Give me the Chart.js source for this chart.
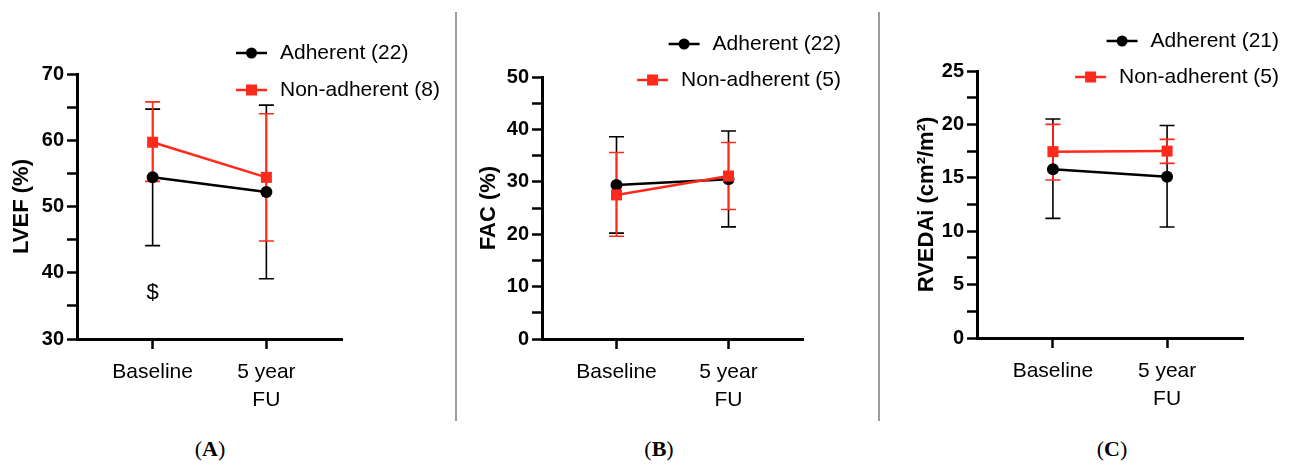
<!DOCTYPE html>
<html><head><meta charset="utf-8">
<script src="https://cdn.jsdelivr.net/npm/chart.js@4/dist/chart.umd.min.js"></script>
<style>
html,body{margin:0;padding:0;background:#fff;}
body{width:1291px;height:466px;position:relative;overflow:hidden;font-family:"Liberation Sans",Arial,sans-serif;}
canvas{position:absolute;top:0;}
.sep{position:absolute;width:2px;background:#9c9c9c;top:12px;height:409px;}
.lab{position:absolute;top:436px;width:80px;text-align:center;font:22px "Liberation Serif","Times New Roman",serif;line-height:26px;color:#000;}
.lab b{font-weight:bold;}
</style></head><body>
<canvas id="cA" width="455" height="430" style="left:0px"></canvas>
<div class="sep" style="left:455px"></div>
<canvas id="cB" width="421" height="430" style="left:457px"></canvas>
<div class="sep" style="left:878px"></div>
<canvas id="cC" width="410" height="430" style="left:881px"></canvas>
<div class="lab" style="left:170px">(<b>A</b>)</div>
<div class="lab" style="left:619px">(<b>B</b>)</div>
<div class="lab" style="left:1072px">(<b>C</b>)</div>
<script>
// ---------- data ----------
const xLabels = ['Baseline', ['5 year', 'FU']];
const seriesNames = ['Adherent', 'Non-adherent'];

// Panel A: LVEF (%)
const lvefAdhMean = [54.4, 52.2];
const lvefAdhLow  = [44.1, 39.1];
const lvefAdhHigh = [64.7, 65.3];
const lvefNonMean = [59.7, 54.4];
const lvefNonLow  = [53.8, 44.8];
const lvefNonHigh = [65.8, 64.0];
const lvefN = [22, 8];
const lvefNotes = [{x: 0, y: 36.9, text: '$'}];

// Panel B: FAC (%)
const facAdhMean = [29.4, 30.5];
const facAdhLow  = [20.2, 21.4];
const facAdhHigh = [38.6, 39.7];
const facNonMean = [27.5, 31.1];
const facNonLow  = [19.6, 24.7];
const facNonHigh = [35.6, 37.5];
const facN = [22, 5];

// Panel C: RVEDAi (cm2/m2)
const rvAdhMean = [15.8, 15.1];
const rvAdhLow  = [11.2, 10.4];
const rvAdhHigh = [20.5, 19.9];
const rvNonMean = [17.45, 17.5];
const rvNonLow  = [14.8, 16.35];
const rvNonHigh = [20.0, 18.6];
const rvN = [21, 5];

const BLACK = '#000000';
const RED = '#ff2a1b';

// ---------- plugins ----------
const errorBars = {
  id: 'errorBars',
  beforeDatasetsDraw(chart) {
    const ctx = chart.ctx, ys = chart.scales.y;
    chart.data.datasets.forEach((ds, i) => {
      const meta = chart.getDatasetMeta(i);
      ctx.save();
      ctx.strokeStyle = ds.borderColor;
      ctx.lineWidth = 1.6;
      meta.data.forEach((pt, j) => {
        const x = pt.x;
        const lo = ys.getPixelForValue(ds.errLow[j]);
        const hi = ys.getPixelForValue(ds.errHigh[j]);
        ctx.beginPath();
        ctx.moveTo(x, lo); ctx.lineTo(x, hi);
        ctx.moveTo(x - 7.5, lo); ctx.lineTo(x + 7.5, lo);
        ctx.moveTo(x - 7.5, hi); ctx.lineTo(x + 7.5, hi);
        ctx.stroke();
      });
      ctx.restore();
    });
  }
};

const sideLegend = {
  id: 'sideLegend',
  afterDraw(chart, args, opts) {
    const ctx = chart.ctx;
    ctx.save();
    ctx.font = '21px "Liberation Sans", Arial, sans-serif';
    ctx.textBaseline = 'middle';
    ctx.fillStyle = '#000';
    opts.items.forEach((it, k) => {
      const y = opts.rows[k];
      const w = ctx.measureText(it.text).width;
      let tx;
      if (opts.align === 'left') tx = opts.x + 32 + 13;
      else tx = opts.x - w;
      const lx1 = tx - 13, lx0 = lx1 - 31;
      ctx.strokeStyle = it.color; ctx.lineWidth = 2.5;
      ctx.beginPath(); ctx.moveTo(lx0, y); ctx.lineTo(lx1, y); ctx.stroke();
      const cx = (lx0 + lx1) / 2;
      ctx.fillStyle = it.color;
      if (it.style === 'circle') { ctx.beginPath(); ctx.arc(cx, y, 5.5, 0, Math.PI * 2); ctx.fill(); }
      else ctx.fillRect(cx - 5.5, y - 5.5, 11, 11);
      ctx.fillStyle = '#000';
      ctx.textAlign = 'left';
      ctx.fillText(it.text, tx, y);
    });
    ctx.restore();
  }
};

const notes = {
  id: 'notes',
  afterDatasetsDraw(chart, args, opts) {
    if (!opts.items) return;
    const ctx = chart.ctx;
    ctx.save();
    ctx.font = '22px "Liberation Sans", Arial, sans-serif';
    ctx.textAlign = 'center'; ctx.textBaseline = 'middle'; ctx.fillStyle = '#000';
    opts.items.forEach(n => ctx.fillText(n.text, chart.scales.x.getPixelForValue(n.x), chart.scales.y.getPixelForValue(n.y)));
    ctx.restore();
  }
};

// ---------- chart builder ----------
function makeChart(id, p) {
  const datasets = [
    { label: seriesNames[0] + ' (' + p.n[0] + ')', data: p.adh[0].map((v, i) => ({x: i, y: v})),
      errLow: p.adh[1], errHigh: p.adh[2], borderColor: BLACK, backgroundColor: BLACK,
      borderWidth: 2.5, pointStyle: 'circle', pointRadius: 6, pointBorderWidth: 0, order: 2 },
    { label: seriesNames[1] + ' (' + p.n[1] + ')', data: p.non[0].map((v, i) => ({x: i, y: v})),
      errLow: p.non[1], errHigh: p.non[2], borderColor: RED, backgroundColor: RED,
      borderWidth: 2.5, pointStyle: 'rect', pointRadius: 7.8, pointBorderWidth: 0, order: 1 }
  ];
  return new Chart(document.getElementById(id), {
    type: 'line',
    data: { datasets },
    plugins: [errorBars, sideLegend, notes],
    options: {
      responsive: false, animation: false, events: [],
      layout: { padding: { left: 0, top: p.top, right: p.right, bottom: 0 } },
      plugins: {
        legend: { display: false }, tooltip: { enabled: false },
        sideLegend: { align: p.legAlign, x: p.legX, rows: p.legRows,
          items: [
            { text: datasets[0].label, color: BLACK, style: 'circle' },
            { text: datasets[1].label, color: RED, style: 'rect' }
          ] },
        notes: { items: p.notes }
      },
      scales: {
        x: {
          type: 'linear', min: -0.665, max: 1.665,
          afterBuildTicks: s => { s.ticks = xLabels.map((l, i) => ({ value: i })); },
          afterFit: s => { s.height = p.xH; },
          border: { display: true, color: '#000', width: 3 },
          grid: { drawOnChartArea: false, drawTicks: true, tickLength: 10, tickColor: '#000', tickWidth: 2.5 },
          ticks: { autoSkip: false, maxRotation: 0, padding: 10, color: '#000',
            font: { family: '"Liberation Sans", Arial, sans-serif', size: 21, lineHeight: 1.3 },
            callback: v => xLabels[v] }
        },
        y: {
          min: p.ymin, max: p.ymax,
          afterBuildTicks: s => { const t = []; for (let v = p.ymin; v <= p.ymax + 1e-9; v += p.minor) t.push({ value: v }); s.ticks = t; },
          afterFit: s => { s.width = p.yW; },
          border: { display: true, color: '#000', width: 3 },
          grid: { drawOnChartArea: false, drawTicks: true, tickLength: 10, tickColor: '#000', tickWidth: 2.5 },
          ticks: { autoSkip: false, padding: 3, color: '#000',
            font: { family: '"Liberation Sans", Arial, sans-serif', size: 20, weight: 'bold' },
            callback: v => (Math.abs(v % p.major) < 1e-9 ? String(v) : '') },
          title: { display: true, text: p.title, color: '#000',
            font: { family: '"Liberation Sans", Arial, sans-serif', size: 22, weight: 'bold', lineHeight: 1.2 },
            padding: { top: p.titlePad, bottom: 0 } }
        }
      }
    }
  });
}

makeChart('cA', {
  adh: [lvefAdhMean, lvefAdhLow, lvefAdhHigh], non: [lvefNonMean, lvefNonLow, lvefNonHigh], n: lvefN,
  ymin: 30, ymax: 70, minor: 5, major: 10, title: 'LVEF (%)', titlePad: 8.8,
  top: 74, right: 113, yW: 77, xH: 91,
  legAlign: 'left', legX: 235, legRows: [53, 90], notes: lvefNotes
});
makeChart('cB', {
  adh: [facAdhMean, facAdhLow, facAdhHigh], non: [facNonMean, facNonLow, facNonHigh], n: facN,
  ymin: 0, ymax: 50, minor: 5, major: 10, title: 'FAC (%)', titlePad: 18.8,
  top: 77, right: 75, yW: 85, xH: 91,
  legAlign: 'right', legX: 384, legRows: [44, 80], notes: []
});
makeChart('cC', {
  adh: [rvAdhMean, rvAdhLow, rvAdhHigh], non: [rvNonMean, rvNonLow, rvNonHigh], n: rvN,
  ymin: 0, ymax: 25, minor: 2.5, major: 5, title: 'RVEDAi (cm\u00B2/m\u00B2)', titlePad: 32.8,
  top: 71, right: 48, yW: 96, xH: 92,
  legAlign: 'right', legX: 398, legRows: [41, 77], notes: []
});
</script>
</body></html>
